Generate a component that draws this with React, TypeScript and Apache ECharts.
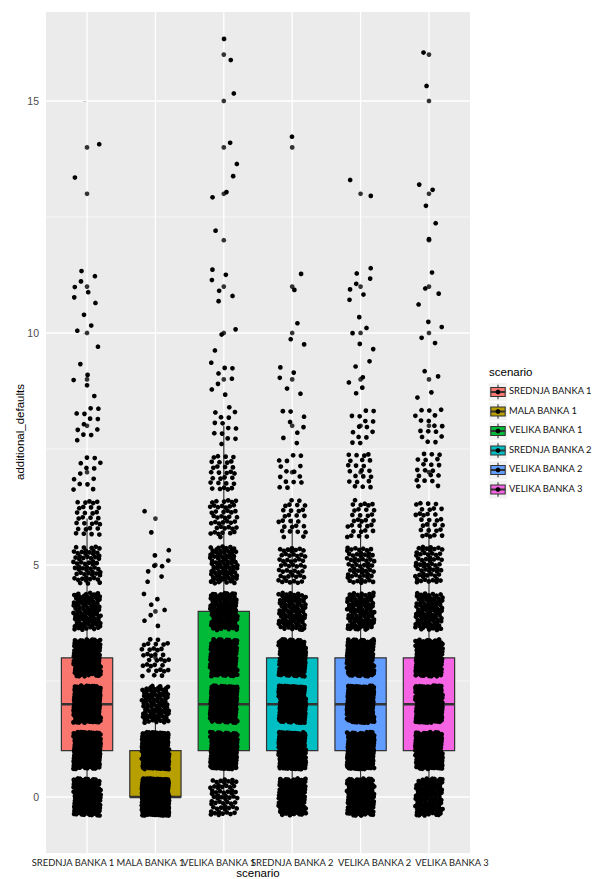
import React, { useEffect, useRef } from "react";
import * as echarts from "echarts";

// ---- data ----
const categories = [
  "SREDNJA BANKA 1",
  "MALA BANKA 1",
  "VELIKA BANKA 1",
  "SREDNJA BANKA 2",
  "VELIKA BANKA 2",
  "VELIKA BANKA 3",
];
const boxColors = ["#F8766D", "#B79F00", "#00BA38", "#00BFC4", "#619CFF", "#F564E3"];

// possible values of additional_defaults (integers)
const defaultValues = [0, 1, 2, 3, 4, 5, 6, 7, 8, 9, 10, 11, 12, 13, 14, 15, 16];
// number of observations at each value, per scenario
const srednja1Counts = [170, 240, 240, 160, 100, 60, 30, 13, 12, 5, 4, 7, 0, 1, 1, 0, 0];
const mala1Counts = [440, 240, 90, 35, 7, 8, 2, 0, 0, 0, 0, 0, 0, 0, 0, 0, 0];
const velika1Counts = [60, 200, 220, 150, 125, 85, 45, 30, 14, 8, 3, 6, 1, 3, 2, 1, 2];
const srednja2Counts = [150, 240, 240, 160, 95, 50, 28, 15, 8, 5, 3, 2, 0, 0, 1, 0, 0];
const velika2Counts = [170, 240, 240, 170, 100, 60, 32, 22, 14, 6, 5, 7, 0, 2, 0, 0, 0];
const velika3Counts = [120, 230, 240, 170, 100, 60, 30, 20, 16, 4, 4, 4, 2, 3, 0, 1, 1];
const groupCounts = [srednja1Counts, mala1Counts, velika1Counts, srednja2Counts, velika2Counts, velika3Counts];

const yTicks = [0, 5, 10, 15];
const yMinorTicks = [2.5, 7.5, 12.5];
const catIdx = [0, 1, 2, 3, 4, 5];
// horizontal shift (px) of each x label as seen in the picture
const labelShift = [-14, -5, -5, 0, 14, 23];

// ---- helpers ----
function expand(counts: number[]): number[] {
  const out: number[] = [];
  counts.forEach((c, vi) => {
    for (let k = 0; k < c; k++) out.push(defaultValues[vi]);
  });
  return out;
}
function quantile(sorted: number[], p: number): number {
  const h = (sorted.length - 1) * p;
  const lo = Math.floor(h);
  const hi = Math.ceil(h);
  return sorted[lo] + (sorted[hi] - sorted[lo]) * (h - lo);
}
function boxStats(values: number[]) {
  const s = [...values].sort((a, b) => a - b);
  const q1 = quantile(s, 0.25);
  const med = quantile(s, 0.5);
  const q3 = quantile(s, 0.75);
  const iqr = q3 - q1;
  const upLim = q3 + 1.5 * iqr;
  const loLim = q1 - 1.5 * iqr;
  const inside = s.filter((v) => v >= loLim && v <= upLim);
  const lo = inside[0];
  const hi = inside[inside.length - 1];
  const outliers = Array.from(new Set(s.filter((v) => v < loLim || v > upLim)));
  return { q1, med, q3, lo, hi, outliers };
}
// deterministic low-discrepancy spread for the jitter (visual placement only)
const PX = 0.7548776662466927;
const PY = 0.5698402909980532;
function spread(n: number, phi: number) {
  return ((0.5 + n * phi) % 1) - 0.5;
}
const JITTER_W = 0.4; // total horizontal jitter width (category units)
const JITTER_H = 0.8; // total vertical jitter height (value units)
const LABEL_FONT = 9.4;

export default function App() {
  const ref = useRef<HTMLDivElement>(null);
  useEffect(() => {
    if (!ref.current) return;
    const chart = echarts.init(ref.current, undefined, { renderer: "svg" });

    const stats = groupCounts.map((c) => boxStats(expand(c)));
    const boxData = stats.map((s, i) => [i, s.lo, s.q1, s.med, s.q3, s.hi]);
    const outlierData: number[][] = [];
    stats.forEach((s, i) => s.outliers.forEach((v) => outlierData.push([i, v])));

    const jitterSeries = groupCounts.map((counts, g) => {
      const pts: number[][] = [];
      counts.forEach((c, vi) => {
        const seed = g * 977 + vi * 131;
        for (let k = 0; k < c; k++) {
          const n = seed + k;
          pts.push([g + spread(n, PX) * JITTER_W, defaultValues[vi] + spread(n, PY) * JITTER_H]);
        }
      });
      return {
        type: "scatter",
        name: categories[g],
        data: pts,
        symbol: "circle",
        symbolSize: 4.7,
        itemStyle: { color: "#000000", opacity: 1 },
        silent: true,
        large: false,
        progressive: 0,
        z: 5,
      };
    });

    const gridData = [
      ...yMinorTicks.map((v) => [0, v]),
      ...yTicks.map((v) => [1, v]),
      ...catIdx.map((i) => [2, i]),
    ];

    const rich: any = {};
    labelShift.forEach((s, i) => {
      rich["l" + i] = {
        fontFamily: "Lato",
        fontSize: LABEL_FONT,
        color: "#222222",
        padding: s < 0 ? [0, -2 * s, 0, 0] : [0, 0, 0, 2 * s],
      };
    });

    const legendTop = 392;
    const legendStep = 19.5;
    const keyX = 489;
    const keySize = 18;
    const legendGraphics: any[] = [
      {
        type: "text",
        left: keyX,
        top: 366,
        style: { text: "scenario", fontFamily: "Liberation Sans", fontSize: 11.5, fill: "#000" },
      },
    ];
    categories.forEach((c, i) => {
      const cy = legendTop + i * legendStep;
      legendGraphics.push({
        type: "group",
        children: [
          { type: "rect", shape: { x: keyX, y: cy - keySize / 2, width: keySize, height: keySize }, style: { fill: "#F2F2F2" } },
          { type: "line", shape: { x1: keyX + keySize / 2, y1: cy - keySize * 0.4, x2: keyX + keySize / 2, y2: cy + keySize * 0.4 }, style: { stroke: "#333333", lineWidth: 1.1 } },
          { type: "rect", shape: { x: keyX + keySize * 0.1, y: cy - keySize * 0.25, width: keySize * 0.8, height: keySize * 0.5 }, style: { fill: boxColors[i], stroke: "#333333", lineWidth: 1.1 } },
          { type: "line", shape: { x1: keyX + keySize * 0.1, y1: cy, x2: keyX + keySize * 0.9, y2: cy }, style: { stroke: "#333333", lineWidth: 2 } },
          { type: "circle", shape: { cx: keyX + keySize / 2, cy, r: 2.4 }, style: { fill: "#000" } },
        ],
      });
      legendGraphics.push({
        type: "text",
        left: keyX + keySize + 2,
        top: cy - 6,
        style: { text: c, fontFamily: "Lato", fontSize: LABEL_FONT, fill: "#111" },
      });
    });

    const option: any = {
      animation: false,
      backgroundColor: "#ffffff",
      grid: {
        left: 46,
        right: 122,
        top: 12,
        bottom: 26,
        show: true,
        backgroundColor: "#EBEBEB",
        borderWidth: 0,
      },
      xAxis: {
        type: "value",
        min: -0.6,
        max: 5.6,
        axisLine: { show: false },
        splitLine: { show: false },
        axisTick: { show: true, customValues: catIdx, length: 4, lineStyle: { color: "#333333", width: 1 } },
        axisLabel: {
          customValues: catIdx,
          showMinLabel: true,
          showMaxLabel: true,
          hideOverlap: false,
          margin: 5,
          fontFamily: "Lato",
          fontSize: LABEL_FONT,
          color: "#222222",
          formatter: (v: number) => {
            const i = Math.round(v);
            return "{l" + i + "|" + categories[i] + "}";
          },
          rich,
        },
      },
      yAxis: {
        type: "value",
        min: -1.207,
        max: 16.918,
        axisLine: { show: false },
        splitLine: { show: false },
        axisTick: { show: true, customValues: yTicks, length: 4, lineStyle: { color: "#333333", width: 1 } },
        axisLabel: {
          customValues: yTicks,
          showMinLabel: true,
          showMaxLabel: true,
          margin: 7,
          fontFamily: "Liberation Sans",
          fontSize: 10.5,
          color: "#4D4D4D",
          formatter: (v: number) => "{t|" + v + "}",
          rich: {
            t: { fontFamily: "Liberation Sans", fontSize: 10.5, color: "#4D4D4D" },
          },
        },
      },
      graphic: [
        {
          type: "text",
          x: 19.5,
          y: 432,
          rotation: Math.PI / 2,
          style: {
            text: "additional_defaults",
            fontFamily: "Liberation Sans",
            fontSize: 11.5,
            fill: "#000",
            align: "center",
            verticalAlign: "middle",
          },
        },
        {
          type: "text",
          x: 258,
          y: 873,
          style: {
            text: "scenario",
            fontFamily: "Liberation Sans",
            fontSize: 11.5,
            fill: "#000",
            align: "center",
            verticalAlign: "middle",
          },
        },
        ...legendGraphics,
      ],
      series: [
        {
          type: "custom",
          name: "grid",
          silent: true,
          z: 1,
          data: gridData,
          renderItem: (params: any, api: any) => {
            const kind = api.value(0);
            const v = api.value(1);
            const cs = params.coordSys;
            if (kind === 2) {
              const px = api.coord([v, 0])[0];
              return {
                type: "line",
                shape: { x1: px, y1: cs.y, x2: px, y2: cs.y + cs.height },
                style: { stroke: "#FFFFFF", lineWidth: 1.3 },
              };
            }
            const py = api.coord([0, v])[1];
            return {
              type: "line",
              shape: { x1: cs.x, y1: py, x2: cs.x + cs.width, y2: py },
              style: { stroke: "#FFFFFF", lineWidth: kind === 1 ? 1.3 : 0.65 },
            };
          },
        },
        {
          type: "custom",
          name: "boxes",
          silent: true,
          z: 2,
          data: boxData,
          encode: { x: 0, y: [1, 2, 3, 4, 5] },
          renderItem: (params: any, api: any) => {
            const i = api.value(0);
            const cx = api.coord([i, 0])[0];
            const yLo = api.coord([i, api.value(1)])[1];
            const yQ1 = api.coord([i, api.value(2)])[1];
            const yMed = api.coord([i, api.value(3)])[1];
            const yQ3 = api.coord([i, api.value(4)])[1];
            const yHi = api.coord([i, api.value(5)])[1];
            const left = api.coord([i - 0.375, 0])[0];
            const right = api.coord([i + 0.375, 0])[0];
            const st = { stroke: "#333333", lineWidth: 1.2 };
            return {
              type: "group",
              children: [
                { type: "line", shape: { x1: cx, y1: yQ3, x2: cx, y2: yHi }, style: st },
                { type: "line", shape: { x1: cx, y1: yQ1, x2: cx, y2: yLo }, style: st },
                {
                  type: "rect",
                  shape: { x: left, y: yQ3, width: right - left, height: yQ1 - yQ3 },
                  style: { fill: boxColors[i], stroke: "#333333", lineWidth: 1.2 },
                },
                { type: "line", shape: { x1: left, y1: yMed, x2: right, y2: yMed }, style: { stroke: "#333333", lineWidth: 2.4 } },
              ],
            };
          },
        },
        {
          type: "scatter",
          name: "outliers",
          data: outlierData,
          symbolSize: 4.7,
          itemStyle: { color: "#333333", opacity: 1 },
          silent: true,
          z: 3,
        },
        ...jitterSeries,
      ],
    };
    chart.setOption(option);
    return () => chart.dispose();
  }, []);

  return (
    <div
      ref={ref}
      style={{ position: "fixed", left: 0, top: 0, width: 592, height: 879, background: "#fff" }}
    />
  );
}
